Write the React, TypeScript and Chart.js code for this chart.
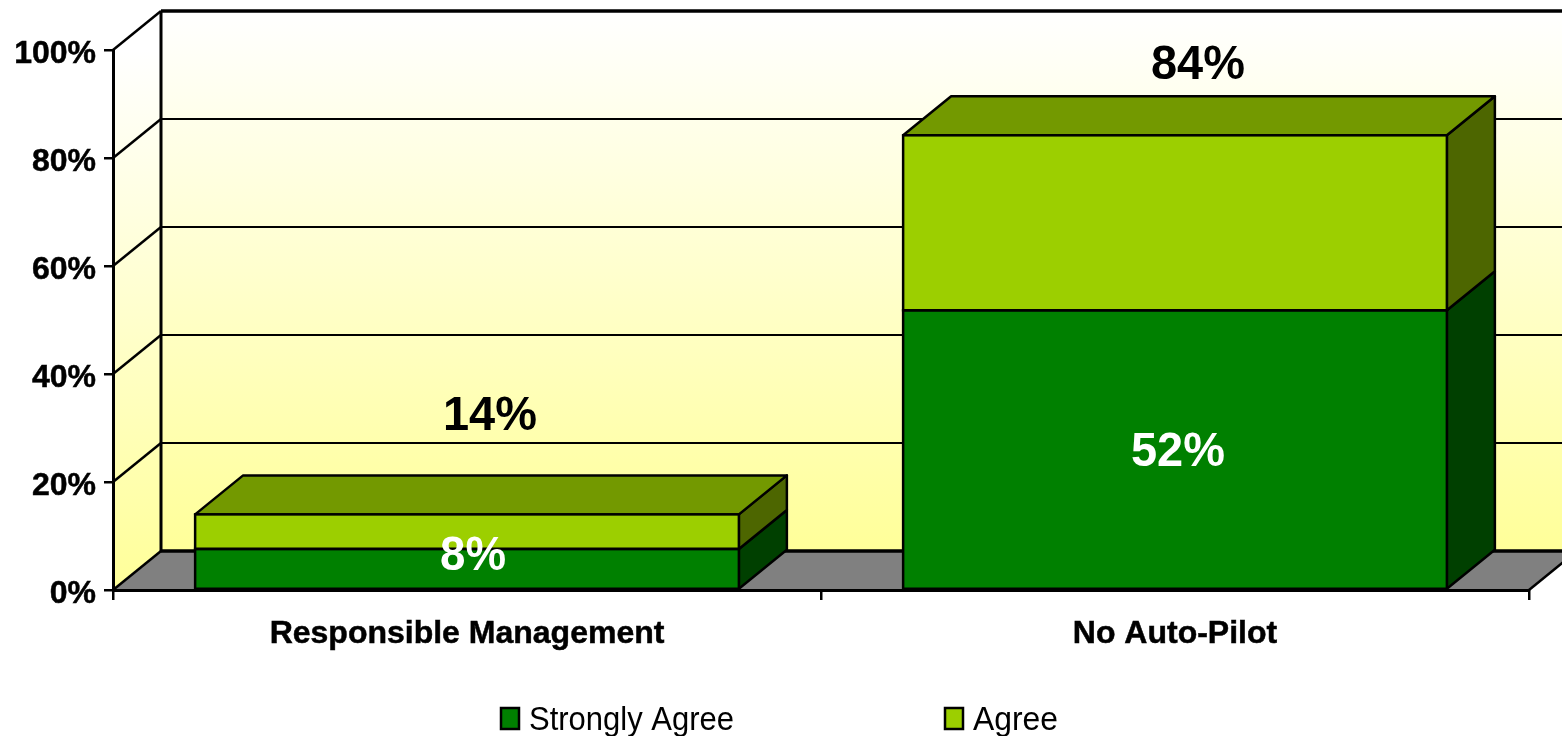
import React, { useEffect, useRef } from "react";
import { Chart, registerables } from "chart.js";

Chart.register(...registerables);

const categories = ["Responsible Management", "No Auto-Pilot"];
const stronglyAgree = [7.6, 51.8];
const agree = [6.4, 32.4];
const seriesNames = ["Strongly Agree", "Agree"];
const FRONT = ["#008000", "#9CCF00"];
const TOP = ["#006000", "#739900"];
const SIDE = ["#004000", "#4D6600"];
const DEPTH_X = 48;
const DEPTH_Y = 39;
const FONT = '"Liberation Sans", Arial, sans-serif';

const poly = (ctx: CanvasRenderingContext2D, pts: number[][], fill: string | CanvasGradient | null, lw = 2.5) => {
  ctx.beginPath();
  pts.forEach((p, i) => (i ? ctx.lineTo(p[0], p[1]) : ctx.moveTo(p[0], p[1])));
  ctx.closePath();
  if (fill) {
    ctx.fillStyle = fill;
    ctx.fill();
  }
  if (lw) {
    ctx.lineWidth = lw;
    ctx.strokeStyle = "#000";
    ctx.lineJoin = "round";
    ctx.stroke();
  }
};

const line = (ctx: CanvasRenderingContext2D, x1: number, y1: number, x2: number, y2: number, lw: number) => {
  ctx.beginPath();
  ctx.moveTo(x1, y1);
  ctx.lineTo(x2, y2);
  ctx.lineWidth = lw;
  ctx.strokeStyle = "#000";
  ctx.stroke();
};

const wallsPlugin = {
  id: "walls",
  beforeDraw(chart: any) {
    const { ctx, chartArea: a, scales } = chart;
    const y = scales.y;
    const top = y.getPixelForValue(100);
    const base = y.getPixelForValue(0);
    const W = chart.width + DEPTH_X;
    ctx.save();
    const back = ctx.createLinearGradient(0, top - DEPTH_Y, 0, base - DEPTH_Y);
    back.addColorStop(0, "#FFFFFF");
    back.addColorStop(1, "#FFFF99");
    ctx.fillStyle = back;
    ctx.fillRect(a.left + DEPTH_X, top - DEPTH_Y, W, base - top);
    const side = ctx.createLinearGradient(0, top, 0, base);
    side.addColorStop(0, "#FFFFFF");
    side.addColorStop(1, "#FFFF99");
    poly(ctx, [[a.left, top], [a.left + DEPTH_X, top - DEPTH_Y], [a.left + DEPTH_X, base - DEPTH_Y], [a.left, base]], side, 0);
    poly(ctx, [[a.left, base], [a.left + DEPTH_X, base - DEPTH_Y], [a.right + DEPTH_X, base - DEPTH_Y], [a.right, base]], "#808080", 0);
    y.ticks.forEach((t: any) => {
      const py = y.getPixelForValue(t.value);
      const heavy = t.value === 100 || t.value === 0;
      line(ctx, a.left, py, a.left + DEPTH_X, py - DEPTH_Y, 2.5);
      line(ctx, a.left + DEPTH_X, py - DEPTH_Y, chart.width, py - DEPTH_Y, heavy ? 3.5 : 2);
    });
    line(ctx, a.left + DEPTH_X, top - DEPTH_Y, a.left + DEPTH_X, base - DEPTH_Y, 3);
    line(ctx, a.right, base, a.right + DEPTH_X, base - DEPTH_Y, 2.5);
    ctx.restore();
  },
  beforeDatasetsDraw(chart: any) {
    const { ctx } = chart;
    ctx.save();
    const count = chart.data.labels.length;
    for (let i = 0; i < count; i++) {
      chart.data.datasets.forEach((_: any, d: number) => {
        const el = chart.getDatasetMeta(d).data[i];
        const r = el.x + el.width / 2;
        poly(ctx, [[r, el.y], [r + DEPTH_X, el.y - DEPTH_Y], [r + DEPTH_X, el.base - DEPTH_Y], [r, el.base]], SIDE[d]);
      });
      const last = chart.data.datasets.length - 1;
      const el = chart.getDatasetMeta(last).data[i];
      const l = el.x - el.width / 2;
      const r = el.x + el.width / 2;
      poly(ctx, [[l, el.y], [l + DEPTH_X, el.y - DEPTH_Y], [r + DEPTH_X, el.y - DEPTH_Y], [r, el.y]], TOP[last]);
    }
    ctx.restore();
  },
  afterDatasetsDraw(chart: any) {
    const { ctx } = chart;
    ctx.save();
    chart.data.datasets.forEach((_: any, d: number) => {
      chart.getDatasetMeta(d).data.forEach((el: any) => {
        const l = el.x - el.width / 2;
        ctx.lineWidth = 2.5;
        ctx.strokeStyle = "#000";
        ctx.strokeRect(l, el.y, el.width, el.base - el.y);
      });
    });
    ctx.restore();
  },
  afterDraw(chart: any) {
    const { ctx } = chart;
    ctx.save();
    ctx.textAlign = "center";
    ctx.textBaseline = "middle";
    ctx.font = `bold 49px ${FONT}`;
    const m0 = chart.getDatasetMeta(0).data;
    const m1 = chart.getDatasetMeta(1).data;
    // segment labels (white)
    ctx.fillStyle = "#FFFFFF";
    ctx.fillText(`${Math.round(stronglyAgree[0])}%`, m0[0].x + 6, (m0[0].y + m0[0].base) / 2 - 12, 66);
    ctx.fillText(`${Math.round(stronglyAgree[1])}%`, m0[1].x + 3, (m0[1].y + m0[1].base) / 2 + 3, 94);
    // stack totals (black)
    ctx.fillStyle = "#000000";
    ctx.fillText(`${Math.round(stronglyAgree[0] + agree[0])}%`, m1[0].x + 23, m1[0].y - 98, 94);
    ctx.fillText(`${Math.round(stronglyAgree[1] + agree[1])}%`, m1[1].x + 23, m1[1].y - 70, 94);
    // legend
    const xs = [501, 945];
    const widths = [205, 85];
    ctx.textAlign = "left";
    ctx.textBaseline = "alphabetic";
    ctx.font = `34px ${FONT}`;
    seriesNames.forEach((name, i) => {
      ctx.fillStyle = FRONT[i];
      ctx.fillRect(xs[i], 708, 18, 21);
      ctx.strokeStyle = "#000";
      ctx.lineWidth = 2.5;
      ctx.strokeRect(xs[i], 708, 18, 21);
      ctx.fillStyle = "#000";
      ctx.fillText(name, xs[i] + 28, 730, widths[i]);
    });
    ctx.restore();
  },
};

export default function App() {
  const ref = useRef<HTMLCanvasElement>(null);
  useEffect(() => {
    const chart = new Chart(ref.current!, {
      type: "bar",
      data: {
        labels: categories,
        datasets: [
          { label: seriesNames[0], data: stronglyAgree, backgroundColor: FRONT[0], borderWidth: 0 },
          { label: seriesNames[1], data: agree, backgroundColor: FRONT[1], borderWidth: 0 },
        ],
      },
      options: {
        responsive: false,
        animation: false,
        layout: { padding: { top: 50, right: 33, left: 0, bottom: 0 } },
        plugins: { legend: { display: false }, tooltip: { enabled: false }, title: { display: false } },
        datasets: { bar: { categoryPercentage: 0.768, barPercentage: 1 } },
        scales: {
          x: {
            stacked: true,
            afterFit: (s: any) => { s.height = 146; },
            grid: { drawOnChartArea: false, color: "#000", lineWidth: 2.5, tickLength: 10 },
            border: { color: "#000", width: 3 },
            ticks: { color: "#000", font: { family: FONT, size: 32, weight: "bold" }, padding: 15, maxRotation: 0, textStrokeColor: "#000", textStrokeWidth: 0.5 },
          },
          y: {
            stacked: true,
            min: 0,
            max: 100,
            afterFit: (s: any) => { s.width = 113; },
            grid: { drawOnChartArea: false, color: "#000", lineWidth: 2.5, tickLength: 9 },
            border: { color: "#000", width: 3 },
            ticks: { stepSize: 20, color: "#000", font: { family: FONT, size: 32, weight: "bold" }, padding: 8, labelOffset: 4, textStrokeColor: "#000", textStrokeWidth: 0.5, callback: (v: any) => `${v}%` },
          },
        },
      } as any,
      plugins: [wallsPlugin],
    });
    return () => chart.destroy();
  }, []);
  return (
    <div style={{ position: "fixed", left: 0, top: 0, width: 1562, height: 736, background: "#fff", overflow: "hidden" }}>
      <canvas ref={ref} width={1562} height={736} style={{ display: "block" }} />
    </div>
  );
}
